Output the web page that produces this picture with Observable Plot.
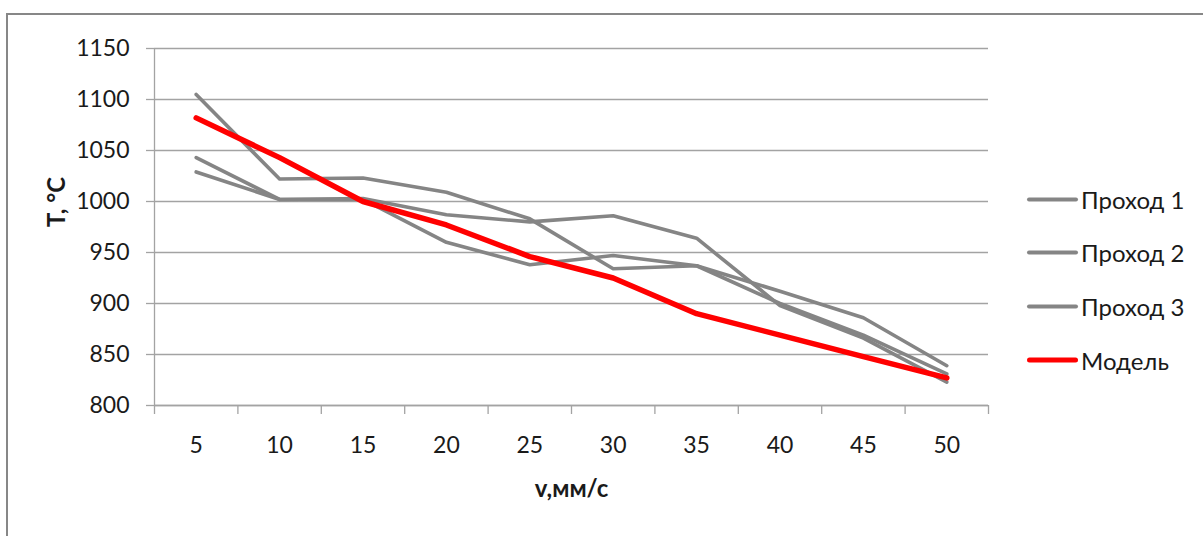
<!DOCTYPE html>
<html>
<head>
<meta charset="utf-8">
<script src="https://cdn.jsdelivr.net/npm/d3@7"></script>
<script src="https://cdn.jsdelivr.net/npm/@observablehq/plot@0.6"></script>
<style>
  html, body { margin: 0; padding: 0; background: #fff; overflow: hidden; }
  #wrap { position: relative; width: 1203px; height: 536px; overflow: hidden; }
  #frame { position: absolute; left: 6px; top: 13px; width: 1300px; height: 700px;
           border-top: 2px solid #878787; border-left: 2px solid #878787; box-sizing: border-box; }
  #chart { position: absolute; left: 0; top: 0; }
  #legend { position: absolute; left: 1027px; top: 0; font-family: Lato, "Open Sans", sans-serif;
            font-size: 24px; color: #1a1a1a; }
  .item { position: absolute; left: 0; display: flex; align-items: center; white-space: nowrap; transform: translateY(-50%); }
  .sw { width: 51px; border-radius: 3px; margin-right: 3px; }
</style>
</head>
<body>
<div id="wrap">
  <div id="frame"></div>
  <div id="chart"></div>
  <div id="legend"></div>
</div>
<script>
// ---- data ----
const v = [5, 10, 15, 20, 25, 30, 35, 40, 45, 50];
const pass1 = [1105, 1022, 1023, 1009, 983, 934, 937, 900, 869, 831];
const pass2 = [1043, 1002, 1003, 987, 980, 986, 964, 898, 866, 823];
const pass3 = [1029, 1002, 1002, 960, 938, 947, 937, 912, 886, 839];
const model = [1082, 1043, 1000, 977, 946, 925, 890, 869, 848, 827];
const seriesNames = ["Проход 1", "Проход 2", "Проход 3", "Модель"];
const yTicks = [800, 850, 900, 950, 1000, 1050, 1100, 1150];
const xTitle = "v,мм/с";
const yTitle = "Т, °С";

const gray = "#858585";
const red = "#ff0000";
const gridColor = "#a3a3a3";

const seriesData = [pass1, pass2, pass3, model];
const colors = [gray, gray, gray, red];
const widths = [3.6, 3.6, 3.6, 5.5];

const rows = [];
seriesData.forEach((arr, k) => arr.forEach((T, i) => rows.push({ v: v[i], T, s: seriesNames[k] })));

const step = v[1] - v[0];
const xDomain = [v[0] - step / 2, v[v.length - 1] + step / 2];
const bounds = [xDomain[0], ...v.map(d => d + step / 2)];

const chart = Plot.plot({
  width: 1203,
  height: 536,
  marginLeft: 154,
  marginRight: 215,
  marginTop: 48,
  marginBottom: 131,
  x: { type: "linear", domain: xDomain },
  y: { domain: [yTicks[0], yTicks[yTicks.length - 1]] },
  style: { fontFamily: "Lato, 'Open Sans', sans-serif", fontSize: "23px", color: "#1a1a1a", background: "transparent" },
  marks: [
    Plot.gridY(yTicks, { stroke: gridColor, strokeOpacity: 1, strokeWidth: 1.3 }),
    Plot.axisY(yTicks, { tickSize: 8, tickPadding: 17, stroke: gridColor, strokeWidth: 1.3, label: null, fill: "#1a1a1a", tickFormat: d => String(d) }),
    Plot.ruleX([xDomain[0]], { stroke: gridColor, strokeWidth: 1.3 }),
    Plot.ruleY([yTicks[0]], { stroke: gridColor, strokeWidth: 1.3 }),
    Plot.axisX(bounds, { tickSize: 9, tickFormat: () => "", stroke: gridColor, strokeWidth: 1.3, label: null }),
    Plot.axisX(v, { tickSize: 0, tickPadding: 31, label: null, fill: "#1a1a1a", tickFormat: d => String(d) }),
    ...seriesNames.map((name, k) =>
      Plot.line(rows.filter(r => r.s === name), {
        x: "v", y: "T", stroke: colors[k], strokeWidth: widths[k], strokeLinejoin: "round", strokeLinecap: "round"
      })
    ),
    Plot.text([xTitle], { frameAnchor: "bottom", dy: 91, fontWeight: "bold", fontSize: 24, fill: "#1a1a1a" }),
    Plot.text([yTitle], { frameAnchor: "left", dx: -97, rotate: -90, fontWeight: "bold", fontSize: 24, fill: "#1a1a1a" })
  ]
});
document.getElementById("chart").appendChild(chart);

// legend
const legend = document.getElementById("legend");
const legendY = [199, 252, 306, 360];
seriesNames.forEach((name, k) => {
  const item = document.createElement("div");
  item.className = "item";
  item.style.top = legendY[k] + "px";
  const sw = document.createElement("div");
  sw.className = "sw";
  sw.style.height = (k === 3 ? 5 : 4) + "px";
  sw.style.background = colors[k];
  const t = document.createElement("span");
  t.textContent = name;
  item.appendChild(sw);
  item.appendChild(t);
  legend.appendChild(item);
});
</script>
</body>
</html>
